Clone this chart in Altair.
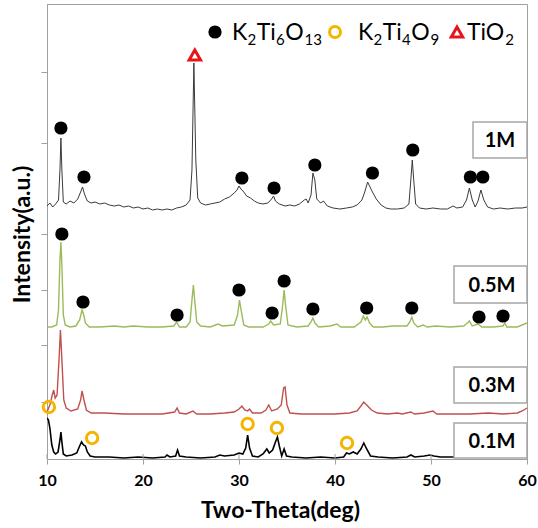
import altair as alt
import pandas as pd

# ---------------- data ----------------
theta_1m = [10.0, 10.3, 10.6, 10.9, 11.2, 11.35, 11.45, 11.55, 11.7, 12.0, 12.4, 12.8, 13.2, 13.5, 13.7, 13.9,
            14.2, 14.6, 15.0, 15.5, 16.0, 16.5, 17.0, 17.5, 18.0, 18.5, 19.0, 19.5, 20.0, 20.5, 21.0, 21.5,
            22.0, 22.5, 23.0, 23.5, 24.0, 24.5, 24.9, 25.1, 25.3, 25.5, 25.7, 26.0, 26.5, 27.0, 27.5, 28.0,
            28.5, 29.0, 29.5, 29.8, 30.0, 30.2, 30.5, 30.8, 31.2, 31.6, 32.0, 32.5, 33.0, 33.4, 33.6, 33.8,
            34.2, 34.8, 35.3, 35.8, 36.3, 36.8, 37.0, 37.2, 37.5, 37.7, 37.9, 38.1, 38.5, 38.8, 39.2, 39.8,
            40.5, 41.2, 41.8, 42.3, 42.8, 43.1, 43.4, 43.6, 43.9, 44.3, 44.8, 45.3, 45.8, 46.5, 47.2, 47.7,
            47.9, 48.05, 48.2, 48.4, 48.8, 49.5, 50.2, 51.0, 51.7, 52.3, 52.7, 53.3, 53.7, 54.0, 54.3, 54.6,
            54.9, 55.2, 55.5, 55.9, 56.5, 57.2, 58.0, 58.8, 59.5, 60.0]
inten_1m = [253, 256, 252, 255, 259, 289, 321, 289, 257, 255, 258, 256, 260, 267, 272, 265,
            258, 256, 257, 255, 256, 254, 253, 254, 252, 253, 251, 252, 250, 251, 249, 250,
            249, 250, 249, 251, 252, 254, 259, 289, 396, 299, 261, 256, 254, 255, 256, 257,
            260, 262, 266, 269, 273, 270, 267, 263, 261, 258, 256, 255, 256, 260, 263, 258,
            255, 253, 254, 253, 255, 259, 260, 256, 264, 286, 279, 260, 256, 258, 253, 251,
            250, 251, 252, 254, 259, 267, 277, 273, 267, 260, 254, 251, 250, 250, 251, 255,
            279, 299, 279, 255, 251, 250, 251, 250, 250, 253, 251, 252, 259, 271, 259, 252,
            258, 269, 259, 252, 250, 251, 250, 251, 251, 252]

theta_05m = [10.0, 10.5, 11.0, 11.2, 11.35, 11.45, 11.55, 11.7, 11.9, 12.4, 13.0, 13.4, 13.65, 13.8, 14.0, 14.4,
             15.5, 17.0, 18.0, 19.0, 20.5, 22.0, 23.2, 23.5, 23.8, 24.5, 24.9, 25.1, 25.25, 25.4, 25.6, 26.0,
             27.0, 27.8, 28.3, 29.5, 29.85, 30.05, 30.25, 30.5, 31.0, 32.5, 33.1, 33.3, 33.6, 34.3, 34.55, 34.7,
             34.85, 35.1, 36.0, 37.2, 37.5, 37.7, 37.9, 38.3, 39.5, 40.2, 40.6, 42.0, 42.7, 42.95, 43.15, 43.35,
             43.6, 44.0, 45.0, 46.0, 47.5, 47.8, 48.0, 48.2, 48.6, 49.2, 49.6, 50.5, 52.0, 53.4, 53.8, 54.0,
             54.3, 54.9, 55.3, 56.5, 57.5, 57.7, 57.9, 59.0, 60.0]
inten_05m = [132, 132, 134, 149, 199, 217, 194, 144, 134, 132, 133, 139, 149, 145, 136, 132,
             132, 133, 132, 133, 132, 132, 133, 137, 132, 132, 137, 159, 174, 157, 137, 133,
             132, 135, 133, 134, 144, 159, 147, 134, 132, 132, 135, 138, 134, 135, 154, 169,
             154, 134, 132, 133, 137, 141, 136, 132, 133, 135, 132, 132, 137, 143, 139, 142,
             136, 132, 132, 133, 133, 137, 142, 136, 132, 134, 132, 133, 132, 133, 136, 138,
             133, 135, 132, 132, 133, 136, 132, 132, 136]

theta_03m = [10.0, 10.3, 10.55, 10.7, 10.85, 11.05, 11.25, 11.4, 11.55, 11.75, 12.0, 12.5, 13.2, 13.5, 13.65, 13.85,
             14.1, 14.6, 16.0, 18.0, 20.0, 22.0, 23.3, 23.55, 23.8, 24.5, 25.2, 25.6, 27.0, 28.5, 29.5, 30.0,
             30.3, 30.6, 30.9, 31.1, 31.4, 32.3, 32.8, 33.1, 33.4, 34.0, 34.4, 34.65, 34.8, 35.0, 35.3, 36.5,
             38.0, 40.0, 41.5, 42.3, 42.7, 43.0, 43.3, 43.8, 44.4, 45.5, 46.5, 47.0, 47.9, 48.3, 49.3, 50.2,
             50.6, 52.0, 54.0, 56.0, 57.5, 59.0, 59.5, 60.0]
inten_03m = [47, 54, 64, 69, 61, 64, 99, 129, 99, 59, 51, 48, 50, 59, 68, 59,
             49, 46, 46, 45, 45, 45, 47, 51, 46, 45, 48, 45, 45, 46, 47, 50,
             53, 49, 48, 50, 46, 46, 49, 54, 48, 50, 54, 71, 72, 54, 46, 45,
             45, 45, 46, 48, 53, 57, 54, 49, 46, 45, 46, 45, 47, 45, 46, 48,
             45, 45, 45, 46, 45, 46, 48, 51]

theta_01m = [10.0, 10.15, 10.3, 10.5, 10.7, 10.9, 11.15, 11.35, 11.45, 11.55, 11.7, 12.0, 12.6, 13.1, 13.4, 13.6,
             13.8, 14.0, 14.2, 14.5, 15.0, 16.5, 18.0, 19.5, 21.0, 22.3, 22.5, 22.8, 23.4, 23.6, 23.8, 24.5,
             26.0, 27.5, 28.0, 28.5, 29.5, 30.0, 30.4, 30.7, 30.9, 31.1, 31.4, 32.0, 32.5, 32.9, 33.15, 33.5,
             33.8, 34.0, 34.2, 34.45, 34.7, 34.95, 35.5, 37.0, 38.5, 40.0, 40.9, 41.2, 41.5, 41.9, 42.3, 42.7,
             43.0, 43.3, 43.7, 44.5, 46.0, 47.5, 47.9, 48.3, 49.3, 49.9, 50.3, 51.0, 52.5, 54.0, 56.0, 58.0, 60.0]
inten_01m = [41, 39, 31, 14, 7, 5, 7, 19, 27, 17, 5, 3, 4, 6, 13, 17,
             14, 13, 7, 3, 2, 2, 1, 2, 1, 2, 4, 2, 3, 9, 3, 2,
             1, 2, 4, 3, 4, 6, 5, 11, 24, 11, 3, 2, 5, 10, 6, 9,
             17, 22, 13, 3, 10, 3, 2, 1, 2, 1, 2, 6, 5, 7, 5, 10,
             16, 10, 3, 2, 1, 2, 4, 2, 3, 4, 3, 2, 2, 2, 2, 2, 2]

# phase markers
k2ti6o13_theta = [11.45, 13.85, 30.3, 33.65, 37.9, 43.9, 48.1, 54.1, 55.4,
                  11.55, 13.75, 23.55, 30.0, 33.45, 34.7, 37.7, 43.3, 48.0, 55.0, 57.5]
k2ti6o13_int = [331, 282, 281, 271, 294, 286, 309, 282, 282,
                225, 157, 144, 169, 146, 178, 150, 151, 151, 142, 143]
k2ti4o9_theta = [10.2, 14.7, 30.9, 33.95, 41.25]
k2ti4o9_int = [52, 21, 35, 31, 16]
tio2_theta = [25.4]
tio2_int = [404]

x_ticks = [10, 20, 30, 40, 50, 60]
y_ticks = [57, 114, 169, 225, 316, 387]
sample_labels = ["1M", "0.5M", "0.3M", "0.1M"]
# legend labels split into (text, is_subscript) pieces
legend_pieces = [
    [("K", 0), ("2", 1), ("Ti", 0), ("6", 1), ("O", 0), ("13", 1)],
    [("K", 0), ("2", 1), ("Ti", 0), ("4", 1), ("O", 0), ("9", 1)],
    [("TiO", 0), ("2", 1)],
]

# ---------------- chart ----------------
W, H = 480, 455
FONT = "Lato"
GRAY = "#a0a0a0"
xs = alt.Scale(domain=[10, 60], nice=False, zero=False)
ys = alt.Scale(domain=[0, 455], nice=False, zero=False)

x_axis = alt.Axis(values=x_ticks, format="d", title="Two-Theta(deg)", grid=False,
                  domainColor=GRAY, tickColor=GRAY, tickSize=5, labelFlush=False,
                  labelFont=FONT, labelFontSize=16, labelFontWeight="bold", labelColor="#000",
                  labelPadding=8, titleFont=FONT, titleFontSize=23, titleFontWeight="bold",
                  titleColor="#000", titleX=233, titleY=58, titleBaseline="alphabetic",
                  titleAlign="center")
y_axis = alt.Axis(values=y_ticks, labels=False, title="Intensity(a.u.)", grid=False,
                  domainColor=GRAY, tickColor=GRAY, tickSize=6,
                  titleFont=FONT, titleFontSize=23, titleFontWeight="bold", titleColor="#000",
                  titleX=-25, titleY=230, titleAngle=270, titleAlign="center",
                  titleBaseline="middle")


def xe(field):
    return alt.X(field, type="quantitative", scale=xs, axis=x_axis)


def ye(field):
    return alt.Y(field, type="quantitative", scale=ys, axis=y_axis)


def trace(th, iv, color, sw):
    df = pd.DataFrame({"t": th, "i": iv, "o": list(range(len(th)))})
    return alt.Chart(df).mark_line(color=color, strokeWidth=sw, clip=True).encode(
        x=xe("t"), y=ye("i"), order=alt.Order("o:Q"))


layers = [
    trace(theta_1m, inten_1m, "#3a3a3a", 1.0),
    trace(theta_05m, inten_05m, "#9bbb59", 1.4),
    trace(theta_03m, inten_03m, "#c0504d", 1.4),
    trace(theta_01m, inten_01m, "#000000", 1.6),
]

# inner half of the crossing x ticks
tick_df = pd.DataFrame({"t": x_ticks})
layers.append(alt.Chart(tick_df).mark_rule(color=GRAY, strokeWidth=1).encode(
    x=xe("t"), y=alt.value(H - 5), y2=alt.value(H)))

dots = pd.DataFrame({"t": k2ti6o13_theta, "i": k2ti6o13_int})
layers.append(alt.Chart(dots).mark_circle(color="#000", size=175, opacity=1).encode(
    x=xe("t"), y=ye("i")))
rings = pd.DataFrame({"t": k2ti4o9_theta, "i": k2ti4o9_int})
layers.append(alt.Chart(rings).mark_point(shape="circle", filled=False, color="#f5b400",
                                         strokeWidth=3, size=130, opacity=1).encode(
    x=xe("t"), y=ye("i")))
tri = pd.DataFrame({"t": tio2_theta, "i": tio2_int})
layers.append(alt.Chart(tri).mark_point(shape="triangle-up", filled=False, color="#e8141b",
                                       strokeWidth=3, size=130, opacity=1).encode(
    x=xe("t"), y=ye("i")))

# sample label boxes
one = pd.DataFrame({"a": [0]})
box_pos = [(426, 480, 118, 154, 453), (407, 480, 262, 299, 445),
           (407, 480, 363, 399, 445), (407, 480, 419, 454, 445)]
for lab, (x1, x2, y1, y2, tx) in zip(sample_labels, box_pos):
    layers.append(alt.Chart(one).mark_rect(fill="white", stroke="#a6a6a6", strokeWidth=1.5).encode(
        x=alt.value(x1), x2=alt.value(x2), y=alt.value(y1), y2=alt.value(y2)))
    layers.append(alt.Chart(one).mark_text(text=lab, font=FONT, fontSize=20, fontWeight="bold",
                                           color="#000", align="center", baseline="middle").encode(
        x=alt.value(tx), y=alt.value((y1 + y2) / 2 + 1)))

# manual legend
layers.append(alt.Chart(one).mark_circle(color="#000", size=175, opacity=1).encode(
    x=alt.value(168), y=alt.value(28)))
layers.append(alt.Chart(one).mark_point(shape="circle", filled=False, color="#f5b400",
                                        strokeWidth=3, size=120, opacity=1).encode(
    x=alt.value(288), y=alt.value(28)))
layers.append(alt.Chart(one).mark_point(shape="triangle-up", filled=False, color="#e8141b",
                                        strokeWidth=3, size=130, opacity=1).encode(
    x=alt.value(410), y=alt.value(28)))
MAIN, SUB = 23, 15
# approximate advance widths (in em) of the legend glyph runs, for chaining the pieces
EM = {"K": 0.63, "Ti": 0.80, "O": 0.79, "TiO": 1.62}
for pieces, start in zip(legend_pieces, [185, 311, 420]):
    px = start
    for txt, sub in pieces:
        layers.append(alt.Chart(one).mark_text(
            text=txt, font=FONT, fontSize=SUB if sub else MAIN, color="#000",
            align="left", baseline="alphabetic").encode(
            x=alt.value(px), y=alt.value(41 if sub else 36)))
        px += (0.58 * len(txt) * SUB + 0.5) if sub else EM[txt] * MAIN + 1

chart = alt.layer(*layers).properties(
    width=W, height=H, autosize=alt.AutoSizeParams(type="none"),
    padding={"left": 47, "top": 4, "right": 11, "bottom": 69},
).configure_view(stroke=GRAY, strokeWidth=1)

chart.save("out.html", embed_options={"renderer": "svg", "actions": False})
